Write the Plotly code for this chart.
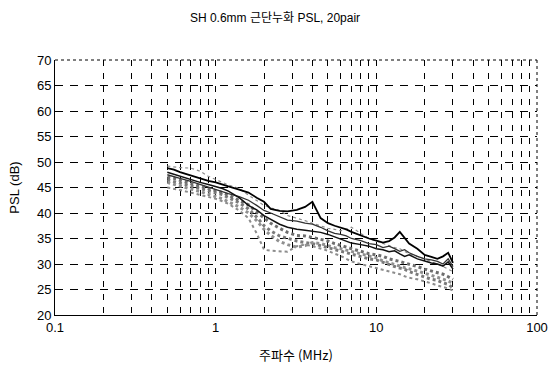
import plotly.graph_objects as go

freq = [0.5, 0.55, 0.6, 0.7, 0.8, 0.9, 1.0, 1.1, 1.2, 1.4, 1.6, 1.8, 2.0, 2.2, 2.5, 2.8,
        3.2, 3.6, 4.0, 4.5, 5.0, 5.5, 6.0, 6.5, 7.0, 8.0, 9.0, 10, 11, 12, 13, 14, 15, 16,
        18, 20, 22, 24, 26, 28, 30]

s1 = [48.8, 48.5, 48.0, 47.3, 46.8, 46.3, 46.0, 45.5, 45.2, 44.6, 44.0, 43.0, 42.2, 40.8,
      40.4, 40.3, 40.6, 41.2, 42.2, 39.0, 38.0, 37.5, 37.2, 36.8, 36.3, 35.6, 35.0, 34.6,
      34.2, 34.5, 35.2, 36.3, 35.0, 34.0, 33.0, 31.8, 31.4, 31.0, 31.5, 32.2, 30.2]
s2 = [48.0, 47.6, 47.2, 46.5, 46.0, 45.6, 45.2, 44.8, 44.3, 43.0, 41.5, 40.6, 39.5, 38.8,
      37.8, 37.2, 36.8, 36.6, 36.4, 36.2, 35.8, 35.3, 34.8, 34.4, 34.1, 33.8, 33.5, 33.0,
      32.8, 32.4, 32.6, 32.0, 31.5, 31.8, 31.0, 30.6, 30.2, 30.0, 29.6, 30.4, 29.0]
s3 = [47.5, 47.2, 46.8, 46.2, 45.6, 45.0, 44.6, 44.2, 43.8, 43.2, 42.5, 41.5, 40.5, 40.0,
      39.3, 38.6, 38.4, 38.0, 37.8, 37.2, 36.5, 36.0, 35.8, 35.5, 35.0, 34.6, 34.0, 33.8,
      33.2, 33.5, 33.0, 32.5, 32.8, 32.2, 31.5, 31.0, 30.8, 30.5, 30.0, 31.0, 29.5]
g1 = [49.2, 49.0, 48.9, 48.8, 48.2, 47.2, 46.5, 46.0, 45.5, 44.8, 43.5, 42.5, 41.5, 41.0,
      40.5, 39.5, 39.0, 38.5, 38.0, 37.5, 37.0, 36.8, 36.5, 36.8, 37.2, 36.0, 35.0, 34.5,
      34.0, 33.5, 33.2, 33.0, 32.5, 32.0, 31.5, 31.0, 30.5, 30.0, 29.5, 29.0, 28.5]
g2 = [46.5, 46.2, 45.8, 45.3, 44.8, 44.4, 44.0, 43.6, 43.0, 42.0, 40.8, 39.2, 37.5, 36.5,
      35.5, 35.0, 34.5, 34.2, 34.0, 33.6, 33.2, 32.8, 32.5, 32.2, 32.0, 31.5, 31.0, 30.8,
      30.3, 30.0, 29.5, 29.2, 29.0, 28.5, 28.0, 27.5, 27.0, 26.8, 26.3, 26.0, 25.3]
g3 = [45.0, 44.8, 44.5, 44.0, 43.6, 43.2, 42.8, 42.3, 41.8, 40.5, 39.0, 36.0, 32.8, 32.6,
      32.5, 32.4, 33.5, 33.8, 33.5, 33.0, 32.6, 32.0, 31.6, 31.0, 30.5, 30.0, 29.6, 29.2,
      28.8, 28.5, 28.3, 28.0, 27.6, 27.3, 27.0, 26.5, 26.2, 25.8, 25.5, 25.2, 24.8]
g4 = [47.0, 46.8, 46.4, 45.8, 45.2, 44.8, 44.4, 44.0, 43.5, 42.5, 41.6, 40.2, 39.0, 38.0,
      37.0, 36.2, 35.6, 35.5, 35.2, 34.8, 34.5, 34.0, 33.6, 33.2, 33.0, 32.5, 32.0, 31.8,
      31.5, 31.0, 30.8, 30.5, 30.2, 30.0, 29.5, 29.0, 28.6, 28.2, 28.0, 27.5, 27.0]
g5 = [46.0, 45.6, 45.2, 44.7, 44.2, 43.7, 43.3, 42.8, 42.2, 41.2, 40.0, 38.5, 36.8, 35.6,
      34.4, 33.8, 33.3, 33.6, 34.2, 34.0, 33.6, 33.2, 33.0, 32.7, 32.4, 32.0, 31.5, 31.2,
      30.6, 30.2, 29.8, 29.6, 29.3, 29.0, 28.6, 28.2, 27.8, 27.4, 27.0, 26.7, 26.2]

series = [
    (g1, "#8c8c8c", 1.2, "dot"),
    (g2, "#7a7a7a", 3.0, "dot"),
    (g3, "#8c8c8c", 2.0, "dot"),
    (g4, "#6e6e6e", 3.0, "dot"),
    (g5, "#909090", 3.0, "dot"),
    (s3, "#333333", 1.3, "solid"),
    (s2, "#111111", 1.5, "solid"),
    (s1, "#000000", 1.8, "solid"),
]

minor_vals = [m * d for d in (0.1, 1, 10) for m in range(2, 10)] + [1, 10]

fig = go.Figure()
for ys, col, w, dash in series:
    fig.add_trace(go.Scatter(x=freq, y=ys, mode="lines",
                             line=dict(color=col, width=w, dash=dash),
                             showlegend=False))

font_fam = "Liberation Sans, Arial, Noto Sans CJK KR, sans-serif"
fig.update_layout(
    width=550, height=374,
    margin=dict(l=55, r=13, t=60, b=59),
    paper_bgcolor="white", plot_bgcolor="white",
    font=dict(family=font_fam, size=13, color="black"),
    title=dict(text="SH 0.6mm 근단누화 PSL, 20pair", x=0.5, xanchor="center",
               y=0.952, yanchor="middle",
               font=dict(size=12, family="Liberation Sans, Noto Sans CJK KR")),
    xaxis=dict(type="log", range=[-1, 2], tickvals=[0.1, 1, 10, 100],
               ticktext=["0.1", "1", "10", "100"], showgrid=False, automargin=False,
               showline=True, linecolor="black", linewidth=1, ticks="",
               zeroline=False,
               minor=dict(tickvals=minor_vals, showgrid=True, gridcolor="black",
                          griddash="6px,7px", gridwidth=1.3, ticks=""),
               title=dict(text="주파수 (MHz)", standoff=17,
                          font=dict(size=13, family="Noto Sans CJK KR, Liberation Sans"))),
    yaxis=dict(range=[20, 70], dtick=5, showgrid=True, gridcolor="black", automargin=False,
               griddash="8px,7px", gridwidth=1.3, showline=True, linecolor="black",
               linewidth=1, ticks="", zeroline=False,
               title=dict(text="PSL (dB)", standoff=14, font=dict(size=13))),
)

# dotted top and right frame
fig.add_shape(type="line", xref="x domain", yref="y domain", x0=0, x1=1, y0=1, y1=1,
              line=dict(color="black", width=1, dash="dot"))
fig.add_shape(type="line", xref="x domain", yref="y domain", x0=1, x1=1, y0=0, y1=1,
              line=dict(color="black", width=1, dash="dot"))

fig.write_html("out.html")
